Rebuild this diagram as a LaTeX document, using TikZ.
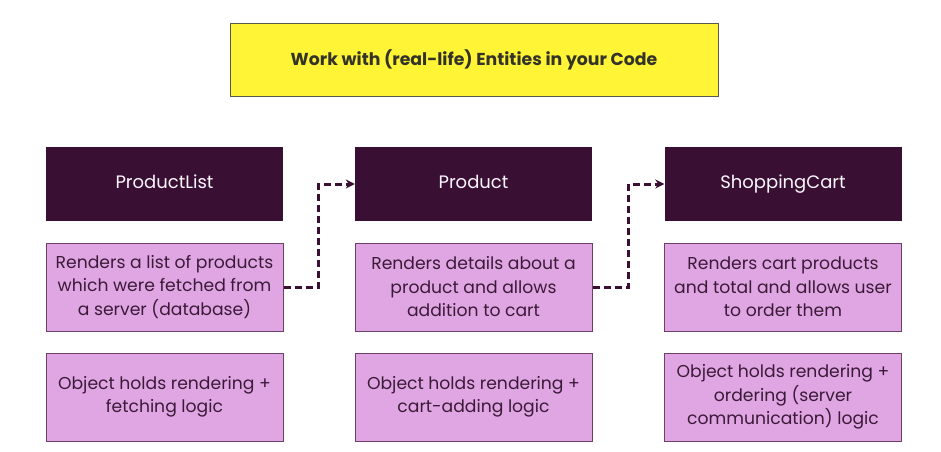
\documentclass[tikz,border=0pt]{standalone}
\usepackage{fontspec}
\setmainfont{Poppins}
\usetikzlibrary{arrows.meta}
\definecolor{darkp}{HTML}{3A0F34}
\definecolor{pinkf}{HTML}{E0A6E3}
\definecolor{pinkb}{HTML}{6E3F69}
\definecolor{ptext}{HTML}{3B1A38}
\definecolor{yell}{HTML}{FFF536}
\definecolor{ybord}{HTML}{5A5A4A}
\definecolor{ytext}{HTML}{33332A}
\begin{document}
\begin{tikzpicture}[x=1pt,y=-1pt,
  titlebox/.style={draw=ybord,line width=1pt,fill=yell,minimum width=488pt,minimum height=73pt,inner sep=0pt,
    text=ytext,font=\fontsize{17.3}{20}\selectfont\bfseries},
  headbox/.style={fill=darkp,minimum width=237pt,minimum height=74pt,inner sep=0pt,
    text height=13pt,text depth=4pt,
    text=white!92!pinkf,font=\fontsize{18}{20}\selectfont},
  descbox/.style={draw=pinkb,line width=1pt,fill=pinkf,minimum width=237pt,minimum height=88pt,inner sep=0pt,
    text=ptext,align=center,font=\fontsize{17.2}{23.5}\selectfont},
  conn/.style={draw=darkp,line width=3pt,dash pattern=on 7pt off 4pt,-{Stealth[length=9pt,width=9pt]}}]
\useasboundingbox[fill=white] (0,0) rectangle (941,451);
\node[titlebox] (title) at (474,59.5) {Work with (real-life) Entities in your Code};
\node[headbox] (h1) at (164.5,184) {ProductList};
\node[headbox] (h2) at (473.5,184) {Product};
\node[headbox] (h3) at (783,184) {ShoppingCart};
\node[descbox] (d1) at (164.5,287) {Renders a list of products\\which were fetched from\\a server (database)};
\node[descbox] (d2) at (473.5,287) {Renders details about a\\product and allows\\addition to cart};
\node[descbox] (d3) at (783,287) {Renders cart products\\and total and allows user\\to order them};
\node[descbox] (l1) at (164.5,397) {Object holds rendering +\\fetching logic};
\node[descbox] (l2) at (473.5,397) {Object holds rendering +\\cart-adding logic};
\node[descbox] (l3) at (783,397) {Object holds rendering +\\ordering (server\\communication) logic};
\draw[conn] (d1.east) -- ++(35,0) |- (h2.west);
\draw[conn] (d2.east) -- ++(36,0) |- (h3.west);
\end{tikzpicture}
\end{document}
